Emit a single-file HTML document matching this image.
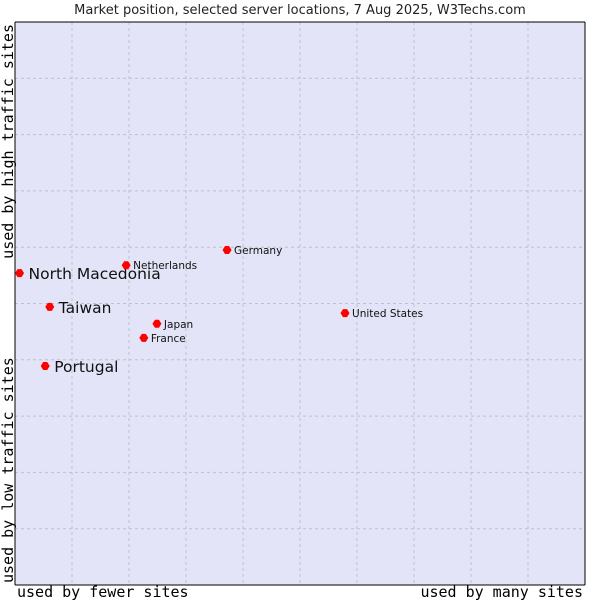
<!DOCTYPE html>
<html><head><meta charset="utf-8"><style>
html,body{margin:0;padding:0;background:#fff;width:600px;height:600px;overflow:hidden}
svg text{font-family:"DejaVu Sans","Liberation Sans",sans-serif}
.mono{font-family:"DejaVu Sans Mono","Liberation Mono",monospace}
</style></head><body>
<svg width="600" height="600">
<rect x="15" y="22" width="570" height="563" fill="#e4e4f8"/>
<g id="grid"></g>
<line x1="15" y1="22" x2="585" y2="22" stroke="#000"/>
<line x1="15" y1="22" x2="15" y2="585" stroke="#000"/>
<line x1="15" y1="585" x2="585" y2="585" stroke="#000"/>
<line x1="585" y1="22" x2="585" y2="585" stroke="#000"/>
<text x="300" y="14" text-anchor="middle" font-size="13" fill="#222">Market position, selected server locations, 7 Aug 2025, W3Techs.com</text>
<text class="mono" x="17" y="597" font-size="15">used by fewer sites</text>
<text class="mono" x="583" y="597" font-size="15" text-anchor="end">used by many sites</text>
<text class="mono" transform="translate(13,24) rotate(-90)" font-size="15" text-anchor="end">used by high traffic sites</text>
<text class="mono" transform="translate(13,583) rotate(-90)" font-size="15">used by low traffic sites</text>
<g id="pts"></g>
</svg>
<script>
const names=["North Macedonia","Taiwan","Portugal","Netherlands","Germany","United States","Japan","France"];
const xVals=[0.8,6.1,5.3,19.5,37.2,57.9,24.9,22.6];
const yVals=[55.4,49.4,38.9,56.8,59.5,48.3,46.4,43.9];
const big=[true,true,true,false,false,false,false,false];
const ns="http://www.w3.org/2000/svg";
const X=v=>15+v*5.7, Y=v=>585-v*5.63;
const g=document.getElementById('grid');
for(let i=1;i<10;i++){
  const a=document.createElementNS(ns,'line');
  a.setAttribute('x1',X(i*10));a.setAttribute('x2',X(i*10));a.setAttribute('y1',22);a.setAttribute('y2',585);
  a.setAttribute('stroke','#c0c0c8');a.setAttribute('stroke-dasharray','3,3');
  
  
  g.appendChild(a);
  const b=document.createElementNS(ns,'line');
  b.setAttribute('y1',Y(i*10));b.setAttribute('y2',Y(i*10));b.setAttribute('x1',15);b.setAttribute('x2',585);
  b.setAttribute('stroke','#c0c0c8');b.setAttribute('stroke-dasharray','3,3');
  
  
  g.appendChild(b);
}
const p=document.getElementById('pts');
names.forEach((n,i)=>{
  const cx=X(xVals[i]),cy=Y(yVals[i]);
  const c=document.createElementNS(ns,'path');
  c.setAttribute('d',`M${cx-4.5},${cy} L${cx-2},${cy-4} L${cx+2},${cy-4} L${cx+4.5},${cy} L${cx+2},${cy+4} L${cx-2},${cy+4}Z`);
  c.setAttribute('fill','#f00');
  
  
  p.appendChild(c);
  const t=document.createElementNS(ns,'text');
  t.setAttribute('x',cx+(big[i]?9:7));t.setAttribute('y',cy+(big[i]?6:4));
  t.setAttribute('font-size',big[i]?15.5:10.5);t.setAttribute('fill','#111');
  t.textContent=n;
  
  
  p.appendChild(t);
});
</script>
</body></html>
